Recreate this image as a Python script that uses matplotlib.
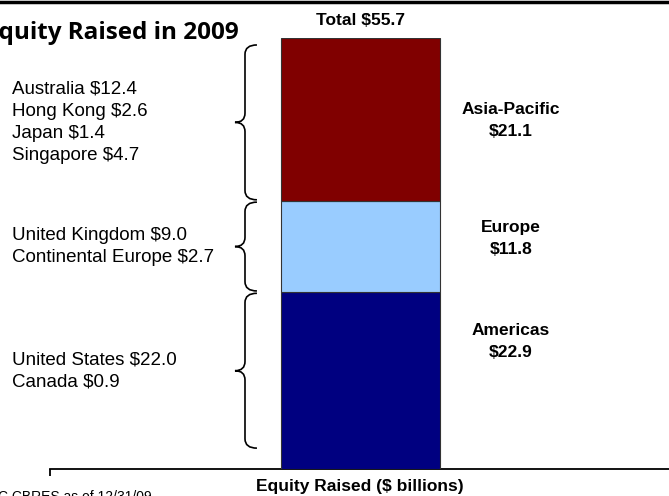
import matplotlib
matplotlib.use('Agg')
import matplotlib.pyplot as plt
from matplotlib.path import Path
from matplotlib.patches import PathPatch
from matplotlib.lines import Line2D

# regional totals ($ billions), bottom to top
regions = ['Americas', 'Europe', 'Asia-Pacific']
values = [22.9, 11.8, 21.1]
total_label = 'Total $55.7'
colors = ['#000080', '#99CCFF', '#800000']

# country breakdown shown beside each segment
countries = [
    ['United States $22.0', 'Canada $0.9'],
    ['United Kingdom $9.0', 'Continental Europe $2.7'],
    ['Australia $12.4', 'Hong Kong $2.6', 'Japan $1.4', 'Singapore $4.7'],
]

# vertical placement of the bold region labels and brace extents
label_y = [16.5, 29.8, 45.1]
brace_pad_bottom = [2.7, 0.15, 0.15]
brace_pad_top = [0.15, 0.15, 0.9]

W, H = 669, 496
fig = plt.figure(figsize=(W / 100, H / 100), dpi=100)
ax = fig.add_axes([50 / W, 27 / H, (W - 50) / W, 431 / H])

top = sum(values)
ax.set_ylim(0, top)
ax.set_xlim(-1.948, 1.9375)

bottoms = [0, values[0], values[0] + values[1]]
ax.bar([0] * 3, values, width=1.0, bottom=bottoms, color=colors,
       edgecolor='#333333', linewidth=0.8, zorder=3)


def brace(ax, y0, y1, x_tip=-0.787, x_mid=-0.724, x_end=-0.649, r=1.2):
    ym = (y0 + y1) / 2
    verts = [
        (x_end, y1), (x_mid, y1), (x_mid, y1 - r),
        (x_mid, ym + r),
        (x_mid, ym), (x_tip, ym),
        (x_mid, ym), (x_mid, ym - r),
        (x_mid, y0 + r),
        (x_mid, y0), (x_end, y0),
    ]
    codes = [Path.MOVETO, Path.CURVE3, Path.CURVE3,
             Path.LINETO,
             Path.CURVE3, Path.CURVE3,
             Path.CURVE3, Path.CURVE3,
             Path.LINETO,
             Path.CURVE3, Path.CURVE3]
    ax.add_patch(PathPatch(Path(verts, codes), facecolor='none',
                           edgecolor='black', lw=1.2, clip_on=False))
    return ym


for i in range(3):
    y0 = bottoms[i] + brace_pad_bottom[i]
    y1 = bottoms[i] + values[i] - brace_pad_top[i]
    ym = brace(ax, y0, y1)
    ax.text(-2.187, ym, '\n'.join(countries[i]), ha='left', va='center',
            fontsize=13.5, family='Liberation Sans', linespacing=1.38)
    ax.text(0.946, label_y[i], '%s\n$%.1f' % (regions[i], values[i]),
            ha='center', va='center', fontsize=12.5, fontweight='bold',
            family='Liberation Sans', linespacing=1.6)

ax.annotate(total_label, xy=(0, top), xytext=(0, 13), textcoords='offset pixels',
            ha='center', va='baseline', fontsize=12.5, fontweight='bold',
            family='Liberation Sans')

for s in ['left', 'right', 'top']:
    ax.spines[s].set_visible(False)
ax.spines['bottom'].set_linewidth(1.3)
ax.set_yticks([])
ax.set_xticks([-1.948])
ax.set_xticklabels([''])
ax.tick_params(axis='x', direction='out', length=5, width=1.3)

fig.text(360 / W, 1 - 491 / H, 'Equity Raised ($ billions)', ha='center',
         va='baseline', fontsize=12.5, fontweight='bold', family='Liberation Sans')
fig.text(239 / W, 1 - 39 / H, 'Equity Raised in 2009', ha='right',
         va='baseline', fontsize=17.5, fontweight='bold', family='Open Sans')
fig.text(-2 / W, 1 - 501 / H, 'C CBRES as of 12/31/09', ha='left',
         va='baseline', fontsize=10, family='Liberation Sans')

fig.add_artist(Line2D([0, 1], [1 - 1.7 / H, 1 - 1.7 / H], color='black',
                      lw=2.5, transform=fig.transFigure))

fig.savefig('out.png', dpi=100)
